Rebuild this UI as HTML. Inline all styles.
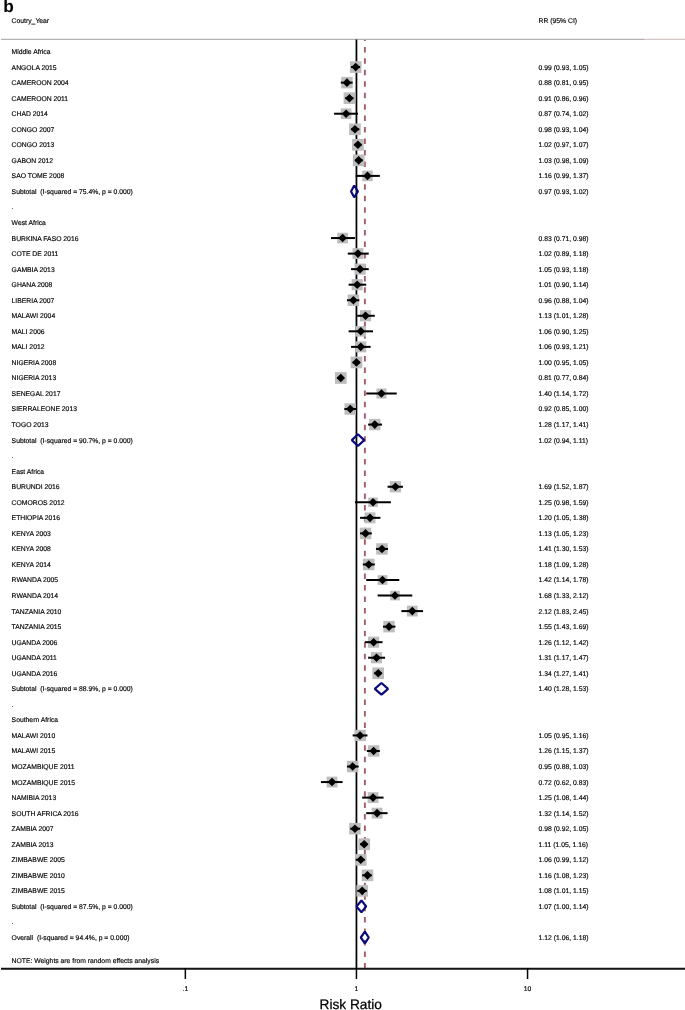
<!DOCTYPE html>
<html><head><meta charset="utf-8"><style>
html,body{margin:0;padding:0;background:#fff;}
svg{display:block;}
text{font-family:"Liberation Sans",sans-serif;text-rendering:geometricPrecision;}
svg{will-change:transform;}
</style></head><body>
<svg width="685" height="1010" viewBox="0 0 685 1010">
<rect width="685" height="1010" fill="#fff"/>
<line x1="1" y1="39.4" x2="644.8" y2="39.4" stroke="#b2b2b2" stroke-width="1.2"/>
<line x1="644.8" y1="39.4" x2="685" y2="39.4" stroke="#d6c6c6" stroke-width="1.2"/>
<line x1="356.45" y1="39.6" x2="356.45" y2="968" stroke="#000" stroke-width="1.75"/>
<line x1="364.87" y1="39.9" x2="364.87" y2="968" stroke="#a85c66" stroke-width="1.9" stroke-dasharray="5.5 5.95" stroke-dashoffset="4.45"/>
<rect x="349.90" y="61.29" width="11.61" height="11.61" fill="#bdbdbd"/>
<rect x="341.21" y="76.90" width="11.47" height="11.47" fill="#bdbdbd"/>
<rect x="343.62" y="92.36" width="11.64" height="11.64" fill="#bdbdbd"/>
<rect x="340.79" y="108.41" width="10.62" height="10.62" fill="#bdbdbd"/>
<rect x="349.13" y="123.45" width="11.64" height="11.64" fill="#bdbdbd"/>
<rect x="352.08" y="138.97" width="11.67" height="11.67" fill="#bdbdbd"/>
<rect x="352.82" y="154.53" width="11.65" height="11.65" fill="#bdbdbd"/>
<rect x="362.18" y="170.59" width="10.60" height="10.60" fill="#bdbdbd"/>
<rect x="337.30" y="232.76" width="10.61" height="10.61" fill="#bdbdbd"/>
<rect x="352.49" y="248.18" width="10.86" height="10.86" fill="#bdbdbd"/>
<rect x="354.52" y="263.60" width="11.11" height="11.11" fill="#bdbdbd"/>
<rect x="351.63" y="279.14" width="11.12" height="11.12" fill="#bdbdbd"/>
<rect x="347.70" y="294.52" width="11.44" height="11.44" fill="#bdbdbd"/>
<rect x="359.98" y="310.22" width="11.11" height="11.11" fill="#bdbdbd"/>
<rect x="355.49" y="326.04" width="10.58" height="10.58" fill="#bdbdbd"/>
<rect x="355.30" y="341.38" width="10.97" height="10.97" fill="#bdbdbd"/>
<rect x="350.62" y="356.58" width="11.67" height="11.67" fill="#bdbdbd"/>
<rect x="334.94" y="372.10" width="11.70" height="11.70" fill="#bdbdbd"/>
<rect x="376.44" y="388.48" width="10.03" height="10.03" fill="#bdbdbd"/>
<rect x="344.52" y="403.31" width="11.46" height="11.46" fill="#bdbdbd"/>
<rect x="369.11" y="418.90" width="11.36" height="11.36" fill="#bdbdbd"/>
<rect x="389.81" y="481.12" width="11.26" height="11.26" fill="#bdbdbd"/>
<rect x="368.26" y="497.53" width="9.53" height="9.53" fill="#bdbdbd"/>
<rect x="364.54" y="512.38" width="10.91" height="10.91" fill="#bdbdbd"/>
<rect x="359.79" y="527.64" width="11.48" height="11.48" fill="#bdbdbd"/>
<rect x="376.25" y="543.20" width="11.46" height="11.46" fill="#bdbdbd"/>
<rect x="363.01" y="558.73" width="11.47" height="11.47" fill="#bdbdbd"/>
<rect x="377.61" y="575.11" width="9.80" height="9.80" fill="#bdbdbd"/>
<rect x="390.17" y="590.73" width="9.66" height="9.66" fill="#bdbdbd"/>
<rect x="406.88" y="605.70" width="10.80" height="10.80" fill="#bdbdbd"/>
<rect x="383.29" y="620.92" width="11.44" height="11.44" fill="#bdbdbd"/>
<rect x="368.07" y="636.63" width="11.11" height="11.11" fill="#bdbdbd"/>
<rect x="370.94" y="652.15" width="11.16" height="11.16" fill="#bdbdbd"/>
<rect x="372.37" y="667.44" width="11.66" height="11.66" fill="#bdbdbd"/>
<rect x="354.43" y="729.79" width="11.30" height="11.30" fill="#bdbdbd"/>
<rect x="367.92" y="745.28" width="11.41" height="11.41" fill="#bdbdbd"/>
<rect x="346.90" y="760.79" width="11.48" height="11.48" fill="#bdbdbd"/>
<rect x="326.64" y="776.67" width="10.80" height="10.80" fill="#bdbdbd"/>
<rect x="367.62" y="792.20" width="10.83" height="10.83" fill="#bdbdbd"/>
<rect x="371.67" y="807.74" width="10.83" height="10.83" fill="#bdbdbd"/>
<rect x="349.16" y="822.91" width="11.57" height="11.57" fill="#bdbdbd"/>
<rect x="358.37" y="838.41" width="11.67" height="11.67" fill="#bdbdbd"/>
<rect x="354.98" y="853.99" width="11.60" height="11.60" fill="#bdbdbd"/>
<rect x="361.69" y="869.54" width="11.58" height="11.58" fill="#bdbdbd"/>
<rect x="356.38" y="885.08" width="11.58" height="11.58" fill="#bdbdbd"/>
<line x1="351.06" y1="67.09" x2="360.08" y2="67.09" stroke="#000" stroke-width="2"/>
<line x1="340.79" y1="82.64" x2="352.64" y2="82.64" stroke="#000" stroke-width="2"/>
<line x1="345.24" y1="98.18" x2="353.42" y2="98.18" stroke="#000" stroke-width="2"/>
<line x1="334.08" y1="113.72" x2="357.92" y2="113.72" stroke="#000" stroke-width="2"/>
<line x1="351.06" y1="129.27" x2="359.36" y2="129.27" stroke="#000" stroke-width="2"/>
<line x1="354.19" y1="144.81" x2="361.48" y2="144.81" stroke="#000" stroke-width="2"/>
<line x1="354.95" y1="160.35" x2="362.85" y2="160.35" stroke="#000" stroke-width="2"/>
<line x1="355.70" y1="175.89" x2="379.84" y2="175.89" stroke="#000" stroke-width="2"/>
<line x1="331.00" y1="238.07" x2="354.95" y2="238.07" stroke="#000" stroke-width="2"/>
<line x1="347.79" y1="253.61" x2="368.75" y2="253.61" stroke="#000" stroke-width="2"/>
<line x1="351.06" y1="269.15" x2="368.75" y2="269.15" stroke="#000" stroke-width="2"/>
<line x1="348.62" y1="284.69" x2="366.19" y2="284.69" stroke="#000" stroke-width="2"/>
<line x1="346.95" y1="300.24" x2="359.36" y2="300.24" stroke="#000" stroke-width="2"/>
<line x1="357.19" y1="315.78" x2="374.79" y2="315.78" stroke="#000" stroke-width="2"/>
<line x1="348.62" y1="331.32" x2="373.03" y2="331.32" stroke="#000" stroke-width="2"/>
<line x1="351.06" y1="346.87" x2="370.61" y2="346.87" stroke="#000" stroke-width="2"/>
<line x1="352.64" y1="362.41" x2="360.08" y2="362.41" stroke="#000" stroke-width="2"/>
<line x1="337.03" y1="377.95" x2="343.49" y2="377.95" stroke="#000" stroke-width="2"/>
<line x1="366.19" y1="393.50" x2="396.75" y2="393.50" stroke="#000" stroke-width="2"/>
<line x1="344.37" y1="409.04" x2="356.45" y2="409.04" stroke="#000" stroke-width="2"/>
<line x1="368.12" y1="424.58" x2="381.98" y2="424.58" stroke="#000" stroke-width="2"/>
<line x1="387.56" y1="486.75" x2="402.96" y2="486.75" stroke="#000" stroke-width="2"/>
<line x1="354.95" y1="502.30" x2="390.91" y2="502.30" stroke="#000" stroke-width="2"/>
<line x1="360.08" y1="517.84" x2="380.38" y2="517.84" stroke="#000" stroke-width="2"/>
<line x1="360.08" y1="533.38" x2="371.83" y2="533.38" stroke="#000" stroke-width="2"/>
<line x1="375.95" y1="548.93" x2="388.05" y2="548.93" stroke="#000" stroke-width="2"/>
<line x1="362.85" y1="564.47" x2="374.79" y2="564.47" stroke="#000" stroke-width="2"/>
<line x1="366.19" y1="580.01" x2="399.30" y2="580.01" stroke="#000" stroke-width="2"/>
<line x1="377.64" y1="595.55" x2="412.29" y2="595.55" stroke="#000" stroke-width="2"/>
<line x1="401.36" y1="611.10" x2="423.04" y2="611.10" stroke="#000" stroke-width="2"/>
<line x1="383.03" y1="626.64" x2="395.44" y2="626.64" stroke="#000" stroke-width="2"/>
<line x1="364.87" y1="642.18" x2="382.51" y2="642.18" stroke="#000" stroke-width="2"/>
<line x1="368.12" y1="657.73" x2="385.08" y2="657.73" stroke="#000" stroke-width="2"/>
<line x1="374.21" y1="673.27" x2="381.98" y2="673.27" stroke="#000" stroke-width="2"/>
<line x1="352.64" y1="735.44" x2="367.48" y2="735.44" stroke="#000" stroke-width="2"/>
<line x1="366.84" y1="750.98" x2="379.84" y2="750.98" stroke="#000" stroke-width="2"/>
<line x1="346.95" y1="766.53" x2="358.65" y2="766.53" stroke="#000" stroke-width="2"/>
<line x1="320.93" y1="782.07" x2="342.60" y2="782.07" stroke="#000" stroke-width="2"/>
<line x1="362.17" y1="797.61" x2="383.55" y2="797.61" stroke="#000" stroke-width="2"/>
<line x1="366.19" y1="813.16" x2="387.56" y2="813.16" stroke="#000" stroke-width="2"/>
<line x1="350.25" y1="828.70" x2="360.08" y2="828.70" stroke="#000" stroke-width="2"/>
<line x1="360.08" y1="844.24" x2="367.48" y2="844.24" stroke="#000" stroke-width="2"/>
<line x1="355.70" y1="859.79" x2="364.87" y2="859.79" stroke="#000" stroke-width="2"/>
<line x1="362.17" y1="875.33" x2="371.83" y2="875.33" stroke="#000" stroke-width="2"/>
<line x1="357.19" y1="890.87" x2="366.84" y2="890.87" stroke="#000" stroke-width="2"/>
<path d="M351.40 67.09L355.70 62.79L360.00 67.09L355.70 71.39Z" fill="#000"/>
<path d="M342.65 82.64L346.95 78.34L351.25 82.64L346.95 86.94Z" fill="#000"/>
<path d="M345.14 98.18L349.44 93.88L353.74 98.18L349.44 102.48Z" fill="#000"/>
<path d="M341.80 113.72L346.10 109.42L350.40 113.72L346.10 118.02Z" fill="#000"/>
<path d="M350.65 129.27L354.95 124.97L359.25 129.27L354.95 133.57Z" fill="#000"/>
<path d="M353.62 144.81L357.92 140.51L362.22 144.81L357.92 149.11Z" fill="#000"/>
<path d="M354.35 160.35L358.65 156.05L362.95 160.35L358.65 164.65Z" fill="#000"/>
<path d="M363.18 175.89L367.48 171.59L371.78 175.89L367.48 180.19Z" fill="#000"/>
<path d="M338.30 238.07L342.60 233.77L346.90 238.07L342.60 242.37Z" fill="#000"/>
<path d="M353.62 253.61L357.92 249.31L362.22 253.61L357.92 257.91Z" fill="#000"/>
<path d="M355.78 269.15L360.08 264.85L364.38 269.15L360.08 273.45Z" fill="#000"/>
<path d="M352.89 284.69L357.19 280.39L361.49 284.69L357.19 289.00Z" fill="#000"/>
<path d="M349.12 300.24L353.42 295.94L357.72 300.24L353.42 304.54Z" fill="#000"/>
<path d="M361.23 315.78L365.53 311.48L369.83 315.78L365.53 320.08Z" fill="#000"/>
<path d="M356.48 331.32L360.78 327.02L365.08 331.32L360.78 335.62Z" fill="#000"/>
<path d="M356.48 346.87L360.78 342.57L365.08 346.87L360.78 351.17Z" fill="#000"/>
<path d="M352.15 362.41L356.45 358.11L360.75 362.41L356.45 366.71Z" fill="#000"/>
<path d="M336.49 377.95L340.79 373.65L345.09 377.95L340.79 382.25Z" fill="#000"/>
<path d="M377.15 393.50L381.45 389.20L385.75 393.50L381.45 397.80Z" fill="#000"/>
<path d="M345.95 409.04L350.25 404.74L354.55 409.04L350.25 413.34Z" fill="#000"/>
<path d="M370.49 424.58L374.79 420.28L379.09 424.58L374.79 428.88Z" fill="#000"/>
<path d="M391.14 486.75L395.44 482.45L399.74 486.75L395.44 491.05Z" fill="#000"/>
<path d="M368.73 502.30L373.03 498.00L377.33 502.30L373.03 506.60Z" fill="#000"/>
<path d="M365.70 517.84L370.00 513.54L374.30 517.84L370.00 522.14Z" fill="#000"/>
<path d="M361.23 533.38L365.53 529.08L369.83 533.38L365.53 537.68Z" fill="#000"/>
<path d="M377.68 548.93L381.98 544.63L386.28 548.93L381.98 553.23Z" fill="#000"/>
<path d="M364.45 564.47L368.75 560.17L373.05 564.47L368.75 568.77Z" fill="#000"/>
<path d="M378.21 580.01L382.51 575.71L386.81 580.01L382.51 584.31Z" fill="#000"/>
<path d="M390.70 595.55L395.00 591.25L399.30 595.55L395.00 599.85Z" fill="#000"/>
<path d="M407.99 611.10L412.29 606.80L416.59 611.10L412.29 615.40Z" fill="#000"/>
<path d="M384.72 626.64L389.02 622.34L393.32 626.64L389.02 630.94Z" fill="#000"/>
<path d="M369.32 642.18L373.62 637.88L377.92 642.18L373.62 646.48Z" fill="#000"/>
<path d="M372.22 657.73L376.52 653.43L380.82 657.73L376.52 662.03Z" fill="#000"/>
<path d="M373.90 673.27L378.20 668.97L382.50 673.27L378.20 677.57Z" fill="#000"/>
<path d="M355.78 735.44L360.08 731.14L364.38 735.44L360.08 739.74Z" fill="#000"/>
<path d="M369.32 750.98L373.62 746.68L377.92 750.98L373.62 755.28Z" fill="#000"/>
<path d="M348.34 766.53L352.64 762.23L356.94 766.53L352.64 770.83Z" fill="#000"/>
<path d="M327.74 782.07L332.04 777.77L336.34 782.07L332.04 786.37Z" fill="#000"/>
<path d="M368.73 797.61L373.03 793.31L377.33 797.61L373.03 801.91Z" fill="#000"/>
<path d="M372.78 813.16L377.08 808.86L381.38 813.16L377.08 817.46Z" fill="#000"/>
<path d="M350.65 828.70L354.95 824.40L359.25 828.70L354.95 833.00Z" fill="#000"/>
<path d="M359.90 844.24L364.20 839.94L368.50 844.24L364.20 848.54Z" fill="#000"/>
<path d="M356.48 859.79L360.78 855.49L365.08 859.79L360.78 864.09Z" fill="#000"/>
<path d="M363.18 875.33L367.48 871.03L371.78 875.33L367.48 879.63Z" fill="#000"/>
<path d="M357.87 890.87L362.17 886.57L366.47 890.87L362.17 895.17Z" fill="#000"/>
<path d="M351.06 191.44L354.19 185.59L357.92 191.44L354.19 197.29Z" fill="none" stroke="#0a0a7c" stroke-width="2.2" stroke-linejoin="bevel"/>
<path d="M351.85 440.12L357.92 434.27L364.20 440.12L357.92 445.98Z" fill="none" stroke="#0a0a7c" stroke-width="2.2" stroke-linejoin="bevel"/>
<path d="M374.79 688.81L381.45 682.96L388.05 688.81L381.45 694.66Z" fill="none" stroke="#0a0a7c" stroke-width="2.2" stroke-linejoin="bevel"/>
<path d="M356.45 906.41L361.48 900.56L366.19 906.41L361.48 912.26Z" fill="none" stroke="#0a0a7c" stroke-width="2.2" stroke-linejoin="bevel"/>
<path d="M360.78 937.50L364.87 931.65L368.75 937.50L364.87 943.35Z" fill="none" stroke="#0a0a7c" stroke-width="2.2" stroke-linejoin="bevel"/>
<line x1="1" y1="968.7" x2="685" y2="968.7" stroke="#111" stroke-width="2"/>
<line x1="185.35" y1="968" x2="185.35" y2="979" stroke="#000" stroke-width="1.5"/>
<line x1="356.45" y1="968" x2="356.45" y2="979" stroke="#000" stroke-width="1.5"/>
<line x1="527.55" y1="968" x2="527.55" y2="979" stroke="#000" stroke-width="1.5"/>
<g font-size="6.80" fill="#000" stroke="#000" stroke-width="0.15">
<text x="11.60" y="54.00">Middle Africa</text>
<text x="11.60" y="69.54">ANGOLA 2015</text>
<text x="538.60" y="69.54">0.99 (0.93, 1.05)</text>
<text x="11.60" y="85.09">CAMEROON 2004</text>
<text x="538.60" y="85.09">0.88 (0.81, 0.95)</text>
<text x="11.60" y="100.63">CAMEROON 2011</text>
<text x="538.60" y="100.63">0.91 (0.86, 0.96)</text>
<text x="11.60" y="116.17">CHAD 2014</text>
<text x="538.60" y="116.17">0.87 (0.74, 1.02)</text>
<text x="11.60" y="131.72">CONGO 2007</text>
<text x="538.60" y="131.72">0.98 (0.93, 1.04)</text>
<text x="11.60" y="147.26">CONGO 2013</text>
<text x="538.60" y="147.26">1.02 (0.97, 1.07)</text>
<text x="11.60" y="162.80">GABON 2012</text>
<text x="538.60" y="162.80">1.03 (0.98, 1.09)</text>
<text x="11.60" y="178.34">SAO TOME 2008</text>
<text x="538.60" y="178.34">1.16 (0.99, 1.37)</text>
<text x="11.60" y="193.89">Subtotal &#160;(I-squared = 75.4%, p = 0.000)</text>
<text x="538.60" y="193.89">0.97 (0.93, 1.02)</text>
<text x="11.60" y="209.43">.</text>
<text x="11.60" y="224.97">West Africa</text>
<text x="11.60" y="240.52">BURKINA FASO 2016</text>
<text x="538.60" y="240.52">0.83 (0.71, 0.98)</text>
<text x="11.60" y="256.06">COTE DE 2011</text>
<text x="538.60" y="256.06">1.02 (0.89, 1.18)</text>
<text x="11.60" y="271.60">GAMBIA 2013</text>
<text x="538.60" y="271.60">1.05 (0.93, 1.18)</text>
<text x="11.60" y="287.14">GHANA 2008</text>
<text x="538.60" y="287.14">1.01 (0.90, 1.14)</text>
<text x="11.60" y="302.69">LIBERIA 2007</text>
<text x="538.60" y="302.69">0.96 (0.88, 1.04)</text>
<text x="11.60" y="318.23">MALAWI 2004</text>
<text x="538.60" y="318.23">1.13 (1.01, 1.28)</text>
<text x="11.60" y="333.77">MALI 2006</text>
<text x="538.60" y="333.77">1.06 (0.90, 1.25)</text>
<text x="11.60" y="349.32">MALI 2012</text>
<text x="538.60" y="349.32">1.06 (0.93, 1.21)</text>
<text x="11.60" y="364.86">NIGERIA 2008</text>
<text x="538.60" y="364.86">1.00 (0.95, 1.05)</text>
<text x="11.60" y="380.40">NIGERIA 2013</text>
<text x="538.60" y="380.40">0.81 (0.77, 0.84)</text>
<text x="11.60" y="395.95">SENEGAL 2017</text>
<text x="538.60" y="395.95">1.40 (1.14, 1.72)</text>
<text x="11.60" y="411.49">SIERRALEONE 2013</text>
<text x="538.60" y="411.49">0.92 (0.85, 1.00)</text>
<text x="11.60" y="427.03">TOGO 2013</text>
<text x="538.60" y="427.03">1.28 (1.17, 1.41)</text>
<text x="11.60" y="442.57">Subtotal &#160;(I-squared = 90.7%, p = 0.000)</text>
<text x="538.60" y="442.57">1.02 (0.94, 1.11)</text>
<text x="11.60" y="458.12">.</text>
<text x="11.60" y="473.66">East Africa</text>
<text x="11.60" y="489.20">BURUNDI 2016</text>
<text x="538.60" y="489.20">1.69 (1.52, 1.87)</text>
<text x="11.60" y="504.75">COMOROS 2012</text>
<text x="538.60" y="504.75">1.25 (0.98, 1.59)</text>
<text x="11.60" y="520.29">ETHIOPIA 2016</text>
<text x="538.60" y="520.29">1.20 (1.05, 1.38)</text>
<text x="11.60" y="535.83">KENYA 2003</text>
<text x="538.60" y="535.83">1.13 (1.05, 1.23)</text>
<text x="11.60" y="551.38">KENYA 2008</text>
<text x="538.60" y="551.38">1.41 (1.30, 1.53)</text>
<text x="11.60" y="566.92">KENYA 2014</text>
<text x="538.60" y="566.92">1.18 (1.09, 1.28)</text>
<text x="11.60" y="582.46">RWANDA 2005</text>
<text x="538.60" y="582.46">1.42 (1.14, 1.78)</text>
<text x="11.60" y="598.00">RWANDA 2014</text>
<text x="538.60" y="598.00">1.68 (1.33, 2.12)</text>
<text x="11.60" y="613.55">TANZANIA 2010</text>
<text x="538.60" y="613.55">2.12 (1.83, 2.45)</text>
<text x="11.60" y="629.09">TANZANIA 2015</text>
<text x="538.60" y="629.09">1.55 (1.43, 1.69)</text>
<text x="11.60" y="644.63">UGANDA 2006</text>
<text x="538.60" y="644.63">1.26 (1.12, 1.42)</text>
<text x="11.60" y="660.18">UGANDA 2011</text>
<text x="538.60" y="660.18">1.31 (1.17, 1.47)</text>
<text x="11.60" y="675.72">UGANDA 2016</text>
<text x="538.60" y="675.72">1.34 (1.27, 1.41)</text>
<text x="11.60" y="691.26">Subtotal &#160;(I-squared = 88.9%, p = 0.000)</text>
<text x="538.60" y="691.26">1.40 (1.28, 1.53)</text>
<text x="11.60" y="706.81">.</text>
<text x="11.60" y="722.35">Southern Africa</text>
<text x="11.60" y="737.89">MALAWI 2010</text>
<text x="538.60" y="737.89">1.05 (0.95, 1.16)</text>
<text x="11.60" y="753.43">MALAWI 2015</text>
<text x="538.60" y="753.43">1.26 (1.15, 1.37)</text>
<text x="11.60" y="768.98">MOZAMBIQUE 2011</text>
<text x="538.60" y="768.98">0.95 (0.88, 1.03)</text>
<text x="11.60" y="784.52">MOZAMBIQUE 2015</text>
<text x="538.60" y="784.52">0.72 (0.62, 0.83)</text>
<text x="11.60" y="800.06">NAMIBIA 2013</text>
<text x="538.60" y="800.06">1.25 (1.08, 1.44)</text>
<text x="11.60" y="815.61">SOUTH AFRICA 2016</text>
<text x="538.60" y="815.61">1.32 (1.14, 1.52)</text>
<text x="11.60" y="831.15">ZAMBIA 2007</text>
<text x="538.60" y="831.15">0.98 (0.92, 1.05)</text>
<text x="11.60" y="846.69">ZAMBIA 2013</text>
<text x="538.60" y="846.69">1.11 (1.05, 1.16)</text>
<text x="11.60" y="862.24">ZIMBABWE 2005</text>
<text x="538.60" y="862.24">1.06 (0.99, 1.12)</text>
<text x="11.60" y="877.78">ZIMBABWE 2010</text>
<text x="538.60" y="877.78">1.16 (1.08, 1.23)</text>
<text x="11.60" y="893.32">ZIMBABWE 2015</text>
<text x="538.60" y="893.32">1.08 (1.01, 1.15)</text>
<text x="11.60" y="908.87">Subtotal &#160;(I-squared = 87.5%, p = 0.000)</text>
<text x="538.60" y="908.87">1.07 (1.00, 1.14)</text>
<text x="11.60" y="924.41">.</text>
<text x="11.60" y="939.95">Overall &#160;(I-squared = 94.4%, p = 0.000)</text>
<text x="538.60" y="939.95">1.12 (1.06, 1.18)</text>
<text x="11.60" y="963.05">NOTE: Weights are from random effects analysis</text>
<text x="11.60" y="20" visibility="hidden"></text>
<text x="11.60" y="23.2">Coutry_Year</text>
<text x="538.60" y="23.2">RR (95% CI)</text>
<text x="185.35" y="990.9" text-anchor="middle">.1</text>
<text x="356.45" y="990.9" text-anchor="middle">1</text>
<text x="527.55" y="990.9" text-anchor="middle">10</text>
</g>
<text x="319.5" y="1009.3" font-size="13.7" fill="#000" stroke="#000" stroke-width="0.25">Risk Ratio</text>
<text x="3.35" y="12" font-size="17.2" font-weight="bold" fill="#000">b</text>
</svg>
</body></html>
